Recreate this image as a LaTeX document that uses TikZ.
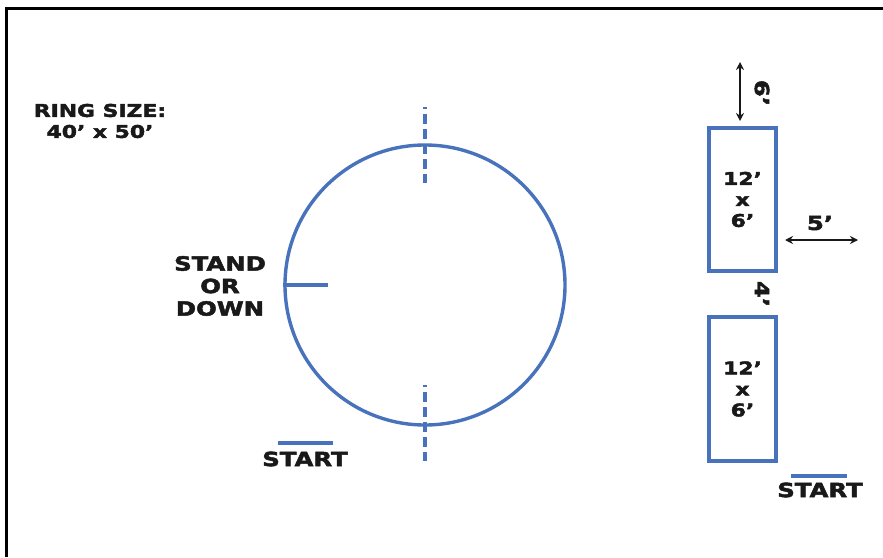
\documentclass[tikz,border=0pt]{standalone}
\usepackage{fontspec}
\setmainfont{DejaVu Sans}[FakeStretch=1.25, BoldFeatures={FakeBold=2.5}]
\usetikzlibrary{arrows.meta}
\definecolor{ringblue}{RGB}{72,114,188}

\begin{document}
\begin{tikzpicture}[x=1pt,y=-1pt,
	lbl/.style={font=\bfseries\fontsize{17.5}{21}\selectfont, inner sep=0, align=center, text=black!90},
	big lbl/.style={lbl, font=\bfseries\fontsize{19.5}{22.5}\selectfont},
	mark line/.style={draw=ringblue, line width=3.4pt},
	pole/.style={draw=ringblue, line width=3.6pt, dash pattern=on 10pt off 5pt, dash phase=8pt},
	dim/.style={draw=black!90, line width=2.6pt, {Stealth[length=8pt,width=8pt]}-{Stealth[length=8pt,width=8pt]}}]
	\useasboundingbox (0,0) rectangle (883,557);
	% frame
	\draw[line width=3pt] (6,557) -- (6,8) -- (883,8);
	\node[lbl] (size) at (100,121) {RING SIZE:\\40’ x 50’};
	% ring
	\node[circle, draw=ringblue, line width=3.4pt, minimum size=280, inner sep=0] (ring) at (425,285) {};
	\coordinate (p1) at (425,107);
	\coordinate (p2) at (425,183);
	\coordinate (p3) at (425,385);
	\coordinate (p4) at (425,461);
	\draw[pole] (p1) -- (p2);
	\draw[pole] (p3) -- (p4);
	\coordinate (s1) at (328,285);
	\draw[mark line] (ring.west) -- (s1);
	\node[big lbl] (stand) at (220,286) {STAND\\OR\\DOWN};
	\coordinate (a1) at (278,443);
	\coordinate (a2) at (333,443);
	\draw[mark line] (a1) -- (a2);
	\node[big lbl] (start1) at (305,459) {START};
	% boxes
	\node[draw=ringblue, line width=3.4pt, minimum width=67, minimum height=143, lbl] (box1) at (742.5,199.5) {12’\\x\\6’};
	\node[draw=ringblue, line width=3.4pt, minimum width=67, minimum height=144, lbl] (box2) at (742.5,389) {12’\\x\\6’};
	\coordinate (d1) at (740,62);
	\coordinate (d2) at (740,121);
	\draw[dim] (d1) -- (d2);
	\node[big lbl, rotate=-90] (six) at (762,93) {6’};
	\node[big lbl, rotate=-90] (four) at (762,294) {4’};
	\coordinate (d3) at (785,240);
	\coordinate (d4) at (858,240);
	\draw[dim] (d3) -- (d4);
	\node[big lbl] (five) at (820,223) {5’};
	\coordinate (b1) at (791,476);
	\coordinate (b2) at (847,476);
	\draw[mark line] (b1) -- (b2);
	\node[big lbl] (start2) at (820,490) {START};
\end{tikzpicture}
\end{document}
